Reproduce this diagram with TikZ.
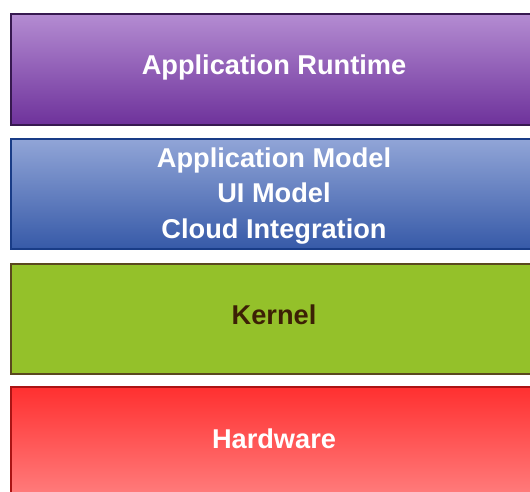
\documentclass[tikz,border=0pt]{standalone}
\usepackage{fontspec}
\setmainfont{Liberation Sans}
\definecolor{purptop}{RGB}{180,140,210}
\definecolor{purpbot}{RGB}{110,50,155}
\definecolor{purpline}{RGB}{55,25,80}
\definecolor{bluetop}{RGB}{145,165,215}
\definecolor{bluebot}{RGB}{55,90,168}
\definecolor{blueline}{RGB}{25,60,135}
\definecolor{kgreen}{RGB}{148,193,42}
\definecolor{greenline}{RGB}{90,72,30}
\definecolor{kerneltext}{RGB}{60,32,5}
\definecolor{redtop}{RGB}{255,48,48}
\definecolor{redbot}{RGB}{255,132,132}
\definecolor{redline}{RGB}{170,20,20}
\tikzset{
  layer/.style={draw, line width=1.5pt, minimum width=528pt, minimum height=111pt,
    anchor=north west, inner sep=0pt},
  label text/.style={font=\fontsize{27.2}{35.5}\selectfont\bfseries, align=center, inner sep=0pt},
}
\begin{document}
\begin{tikzpicture}[x=1pt,y=-1pt]
\useasboundingbox (0,0) rectangle (530,491);
\node[layer, draw=purpline, top color=purptop, bottom color=purpbot]
  (runtime) at (10,13) {};
\node[label text, text=white] (runtimet) at (274,67.5) {Application Runtime};
\node[layer, draw=blueline, top color=bluetop, bottom color=bluebot, minimum height=110pt]
  (model) at (10,138) {};
\node[label text, text=white] (modelt) at (274,196) {Application Model\\UI Model\\Cloud Integration};
\node[layer, draw=greenline, fill=kgreen, minimum height=110pt]
  (kernel) at (10,263) {};
\node[label text, text=kerneltext] (kernelt) at (274,315) {Kernel};
\node[layer, draw=redline, top color=redtop, bottom color=redbot, minimum height=120pt]
  (hardware) at (10,386) {};
\node[label text, text=white] (hardwaret) at (274,439) {Hardware};
\end{tikzpicture}
\end{document}
